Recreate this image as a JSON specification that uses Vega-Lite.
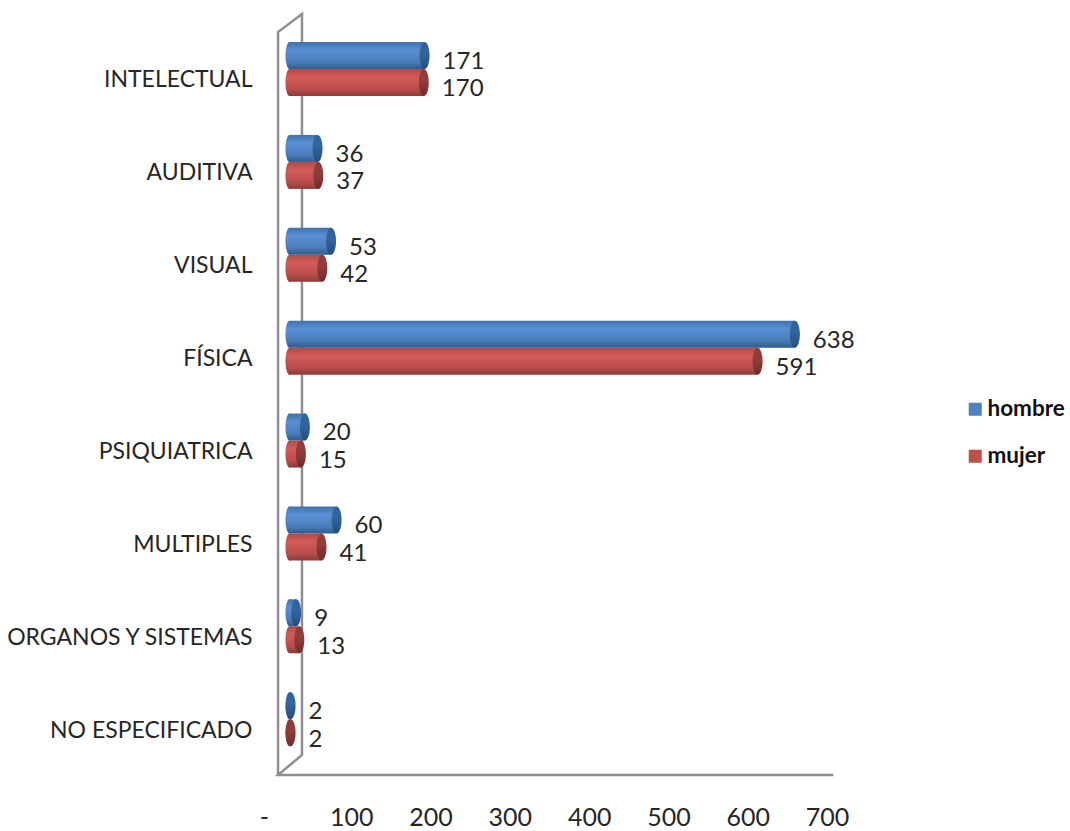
{
"$schema":"https://vega.github.io/schema/vega-lite/v6.json",
"autosize":{"type":"none"},
"padding":{"left":272,"top":32,"right":243,"bottom":56},
"width":555,"height":743,
"background":"white",
"config":{"view":{"stroke":null},"font":"Lato"},
"datasets":{
"d":[
{"c":"INTELECTUAL","s":"hombre","v":171},{"c":"INTELECTUAL","s":"mujer","v":170},
{"c":"AUDITIVA","s":"hombre","v":36},{"c":"AUDITIVA","s":"mujer","v":37},
{"c":"VISUAL","s":"hombre","v":53},{"c":"VISUAL","s":"mujer","v":42},
{"c":"FÍSICA","s":"hombre","v":638},{"c":"FÍSICA","s":"mujer","v":591},
{"c":"PSIQUIATRICA","s":"hombre","v":20},{"c":"PSIQUIATRICA","s":"mujer","v":15},
{"c":"MULTIPLES","s":"hombre","v":60},{"c":"MULTIPLES","s":"mujer","v":41},
{"c":"ORGANOS Y SISTEMAS","s":"hombre","v":9},{"c":"ORGANOS Y SISTEMAS","s":"mujer","v":13},
{"c":"NO ESPECIFICADO","s":"hombre","v":2},{"c":"NO ESPECIFICADO","s":"mujer","v":2}
],
"wall":[
{"o":1,"wx":7.6,"wy":0},{"o":2,"wx":7.6,"wy":743},{"o":3,"wx":37.8,"wy":761},{"o":4,"wx":37.8,"wy":20},{"o":5,"wx":7.6,"wy":0},{"o":6,"wx":708,"wy":0}
]
},
"data":{"name":"d"},
"encoding":{
"x":{"field":"v","type":"quantitative","title":null,"scale":{"domain":[0,700],"nice":false},
"axis":{"values":[0,100,200,300,400,500,600,700],"grid":false,"domain":false,"ticks":false,"labelFlush":false,"labelOverlap":false,"labelPadding":30,"labelOffset":{"condition":{"test":"datum.value==0","value":-8},"value":0},"labelFont":"Lato","labelFontSize":25,"labelColor":"#262626","labelExpr":"datum.value==0?'-':datum.label"}},
"y":{"field":"c","type":"nominal","title":null,"sort":["INTELECTUAL","AUDITIVA","VISUAL","FÍSICA","PSIQUIATRICA","MULTIPLES","ORGANOS Y SISTEMAS","NO ESPECIFICADO"],
"axis":{"domain":false,"ticks":false,"grid":false,"labelPadding":20,"labelOffset":2,"labelFont":"Lato","labelFontSize":23,"labelColor":"#262626","labelLimit":300}}
},
"layer":[
{"data":{"name":"wall"},
 "mark":{"type":"line","color":"#8f8f8f","strokeWidth":2.5,"strokeJoin":"miter"},
 "encoding":{"x":{"field":"wx","type":"quantitative"},"y":{"field":"wy","type":"quantitative","axis":null,"scale":{"domain":[0,743],"nice":false,"zero":false}},"order":{"field":"o"}}},
{"layer":[
{"transform":[{"filter":"datum.s=='mujer'"}],
 "layer":[
 {"mark":{"type":"bar","size":25,"yOffset":4.1,"xOffset":17,"x2Offset":17},"encoding":{"x":{"field":"v","type":"quantitative","stack":null},"x2":{"datum":0},"color":{"field":"s","type":"nominal","scale":{"domain":["hombre","mujer"],"range":["#4f81bd","#c0504d"]},"legend":{"title":null,"orient":"none","legendX":692,"legendY":366,"padding":0,"symbolType":"square","symbolSize":170,"symbolStrokeWidth":0,"rowPadding":24,"labelFont":"Lato","labelFontWeight":"bold","labelFontSize":22.5,"labelColor":"#111111","labelOffset":1}}}},
 {"mark":{"type":"point","filled":true,"size":729,"opacity":1,"yOffset":4.1,"xOffset":17.5,"shape":"M0,-1 C0.16,-1 0.3,-0.55 0.3,0 C0.3,0.55 0.16,1 0,1 C-0.16,1 -0.3,0.55 -0.3,0 C-0.3,-0.55 -0.16,-1 0,-1 Z","fill":{"x1":0,"y1":0,"x2":0,"y2":1,"gradient":"linear","stops":[{"offset":0,"color":"#b04a47"},{"offset":0.3,"color":"#d45b57"},{"offset":0.75,"color":"#b84d4a"},{"offset":1,"color":"#8c3b39"}]}},"encoding":{"x":{"datum":0}}},
 {"mark":{"type":"bar","size":27,"yOffset":4.1,"xOffset":17,"x2Offset":17,"fill":{"x1":0,"y1":0,"x2":0,"y2":1,"gradient":"linear","stops":[{"offset":0,"color":"#b04a47"},{"offset":0.3,"color":"#d45b57"},{"offset":0.75,"color":"#b84d4a"},{"offset":1,"color":"#8c3b39"}]}},"encoding":{"x":{"field":"v","type":"quantitative","stack":null},"x2":{"datum":0}}},
 {"mark":{"type":"point","filled":true,"size":729,"opacity":1,"yOffset":4.1,"xOffset":17,"shape":"M0,-1 C0.2,-1 0.37,-0.55 0.37,0 C0.37,0.55 0.2,1 0,1 C-0.2,1 -0.37,0.55 -0.37,0 C-0.37,-0.55 -0.2,-1 0,-1 Z","fill":{"x1":0,"y1":0,"x2":0,"y2":1,"gradient":"linear","stops":[{"offset":0,"color":"#8c3b39"},{"offset":0.4,"color":"#923d3b"},{"offset":1,"color":"#6e2d2b"}]}},"encoding":{"x":{"field":"v","type":"quantitative"}}},
 {"mark":{"type":"text","align":"left","baseline":"middle","fontSize":24,"font":"Lato","color":"#262626","dx":35,"dy":11},"encoding":{"x":{"field":"v","type":"quantitative"},"text":{"field":"v","type":"quantitative"}}}
 ]},
{"transform":[{"filter":"datum.s=='hombre'"}],
 "layer":[
 {"mark":{"type":"bar","size":25,"yOffset":-22.9,"xOffset":17,"x2Offset":17},"encoding":{"x":{"field":"v","type":"quantitative","stack":null},"x2":{"datum":0},"color":{"field":"s","type":"nominal"}}},
 {"mark":{"type":"point","filled":true,"size":729,"opacity":1,"yOffset":-22.9,"xOffset":17.5,"shape":"M0,-1 C0.16,-1 0.3,-0.55 0.3,0 C0.3,0.55 0.16,1 0,1 C-0.16,1 -0.3,0.55 -0.3,0 C-0.3,-0.55 -0.16,-1 0,-1 Z","fill":{"x1":0,"y1":0,"x2":0,"y2":1,"gradient":"linear","stops":[{"offset":0,"color":"#3f71aa"},{"offset":0.3,"color":"#5990d6"},{"offset":0.75,"color":"#4a7cb8"},{"offset":1,"color":"#2f5a8c"}]}},"encoding":{"x":{"datum":0}}},
 {"mark":{"type":"bar","size":27,"yOffset":-22.9,"xOffset":17,"x2Offset":17,"fill":{"x1":0,"y1":0,"x2":0,"y2":1,"gradient":"linear","stops":[{"offset":0,"color":"#3f71aa"},{"offset":0.3,"color":"#5990d6"},{"offset":0.75,"color":"#4a7cb8"},{"offset":1,"color":"#2f5a8c"}]}},"encoding":{"x":{"field":"v","type":"quantitative","stack":null},"x2":{"datum":0}}},
 {"mark":{"type":"point","filled":true,"size":729,"opacity":1,"yOffset":-22.9,"xOffset":17,"shape":"M0,-1 C0.2,-1 0.37,-0.55 0.37,0 C0.37,0.55 0.2,1 0,1 C-0.2,1 -0.37,0.55 -0.37,0 C-0.37,-0.55 -0.2,-1 0,-1 Z","fill":{"x1":0,"y1":0,"x2":0,"y2":1,"gradient":"linear","stops":[{"offset":0,"color":"#2f5f98"},{"offset":0.4,"color":"#33669f"},{"offset":1,"color":"#264d7a"}]}},"encoding":{"x":{"field":"v","type":"quantitative"}}},
 {"mark":{"type":"text","align":"left","baseline":"middle","fontSize":24,"font":"Lato","color":"#262626","dx":35,"dy":-16.5},"encoding":{"x":{"field":"v","type":"quantitative"},"text":{"field":"v","type":"quantitative"}}}
 ]}
]}
],
"resolve":{"scale":{"y":"independent"}}
}
